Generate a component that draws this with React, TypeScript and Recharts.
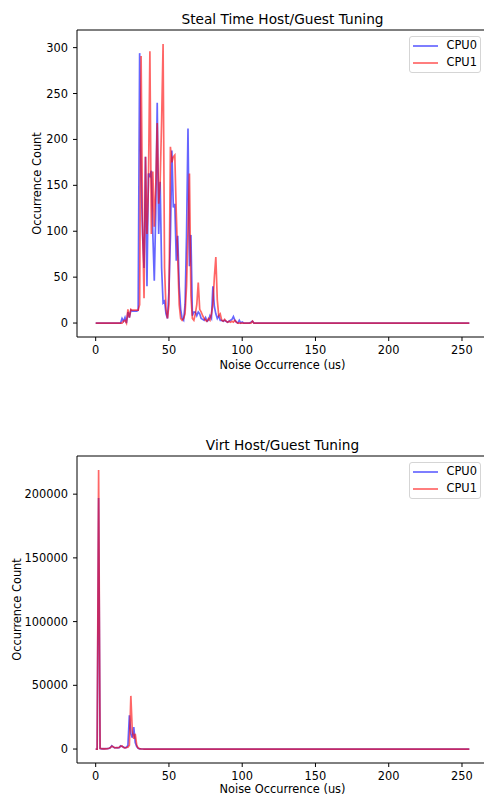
import React from 'react';
import { LineChart, Line, XAxis, YAxis, Legend } from 'recharts';

const FONT = '"DejaVu Sans", sans-serif';

const seriesNames = ['CPU0', 'CPU1'];
const seriesColors = ['#0000ff', '#ff0000'];
const xTicks = [0, 50, 100, 150, 200, 250];
const stealTicks = [0, 50, 100, 150, 200, 250, 300];
const virtTicks = [0, 50000, 100000, 150000, 200000];

const stealCpu0 = [
  0, 0, 0, 0, 0, 0, 0, 0, 0, 0, 0, 0, 0, 0, 0, 0,
  0, 0, 5, 2, 6, 0, 12, 6, 14, 13, 13, 13, 13, 14, 294, 160,
  95, 60, 181, 40, 163, 160, 166, 97, 46, 120, 240, 97, 154, 60, 22, 24,
  10, 5, 35, 93, 188, 126, 130, 68, 95, 40, 15, 5, 3, 20, 95, 212,
  62, 96, 8, 12, 12, 8, 12, 10, 5, 4, 3, 6, 2, 3, 8, 5,
  40, 18, 10, 5, 8, 3, 3, 2, 3, 2, 1, 2, 3, 4, 7, 3,
  1, 0, 3, 0, 1, 0, 0, 0, 0, 0, 1, 2, 0, 0, 0, 0,
  0, 0, 0, 0, 0, 0, 0, 0, 0, 0, 0, 0, 0, 0, 0, 0,
  0, 0, 0, 0, 0, 0, 0, 0, 0, 0, 0, 0, 0, 0, 0, 0,
  0, 0, 0, 0, 0, 0, 0, 0, 0, 0, 0, 0, 0, 0, 0, 0,
  0, 0, 0, 0, 0, 0, 0, 0, 0, 0, 0, 0, 0, 0, 0, 0,
  0, 0, 0, 0, 0, 0, 0, 0, 0, 0, 0, 0, 0, 0, 0, 0,
  0, 0, 0, 0, 0, 0, 0, 0, 0, 0, 0, 0, 0, 0, 0, 0,
  0, 0, 0, 0, 0, 0, 0, 0, 0, 0, 0, 0, 0, 0, 0, 0,
  0, 0, 0, 0, 0, 0, 0, 0, 0, 0, 0, 0, 0, 0, 0, 0,
  0, 0, 0, 0, 0, 0, 0, 0, 0, 0, 0, 0, 0, 0, 0, 0,
];

const stealCpu1 = [
  0, 0, 0, 0, 0, 0, 0, 0, 0, 0, 0, 0, 0, 0, 0, 0,
  0, 0, 0, 2, 3, 0, 15, 6, 15, 14, 14, 14, 14, 14, 20, 291,
  110, 27, 181, 97, 150, 296, 97, 165, 105, 150, 218, 130, 153, 220, 304, 60,
  15, 5, 20, 192, 175, 181, 183, 120, 70, 20, 5, 3, 5, 10, 40, 100,
  163, 30, 5, 3, 10, 20, 44, 15, 12, 8, 5, 3, 2, 5, 3, 10,
  20, 50, 72, 25, 8, 10, 3, 2, 4, 2, 1, 2, 1, 2, 1, 3,
  1, 0, 0, 0, 0, 0, 0, 0, 0, 0, 0, 2, 0, 0, 0, 0,
  0, 0, 0, 0, 0, 0, 0, 0, 0, 0, 0, 0, 0, 0, 0, 0,
  0, 0, 0, 0, 0, 0, 0, 0, 0, 0, 0, 0, 0, 0, 0, 0,
  0, 0, 0, 0, 0, 0, 0, 0, 0, 0, 0, 0, 0, 0, 0, 0,
  0, 0, 0, 0, 0, 0, 0, 0, 0, 0, 0, 0, 0, 0, 0, 0,
  0, 0, 0, 0, 0, 0, 0, 0, 0, 0, 0, 0, 0, 0, 0, 0,
  0, 0, 0, 0, 0, 0, 0, 0, 0, 0, 0, 0, 0, 0, 0, 0,
  0, 0, 0, 0, 0, 0, 0, 0, 0, 0, 0, 0, 0, 0, 0, 0,
  0, 0, 0, 0, 0, 0, 0, 0, 0, 0, 0, 0, 0, 0, 0, 0,
  0, 0, 0, 0, 0, 0, 0, 0, 0, 0, 0, 0, 0, 0, 0, 0,
];

const virtCpu0 = [
  0, 0, 197000, 500, 200, 300, 200, 300, 400, 500, 1200, 2600, 1500, 900, 1200, 900,
  1000, 2500, 2000, 1500, 1000, 1300, 3000, 26500, 12000, 9000, 17300, 5000, 2000, 600, 200, 100,
  50, 0, 0, 0, 0, 0, 0, 0, 0, 0, 0, 0, 0, 0, 0, 0,
  0, 0, 0, 0, 0, 0, 0, 0, 0, 0, 0, 0, 0, 0, 0, 0,
  0, 0, 0, 0, 0, 0, 0, 0, 0, 0, 0, 0, 0, 0, 0, 0,
  0, 0, 0, 0, 0, 0, 0, 0, 0, 0, 0, 0, 0, 0, 0, 0,
  0, 0, 0, 0, 0, 0, 0, 0, 0, 0, 0, 0, 0, 0, 0, 0,
  0, 0, 0, 0, 0, 0, 0, 0, 0, 0, 0, 0, 0, 0, 0, 0,
  0, 0, 0, 0, 0, 0, 0, 0, 0, 0, 0, 0, 0, 0, 0, 0,
  0, 0, 0, 0, 0, 0, 0, 0, 0, 0, 0, 0, 0, 0, 0, 0,
  0, 0, 0, 0, 0, 0, 0, 0, 0, 0, 0, 0, 0, 0, 0, 0,
  0, 0, 0, 0, 0, 0, 0, 0, 0, 0, 0, 0, 0, 0, 0, 0,
  0, 0, 0, 0, 0, 0, 0, 0, 0, 0, 0, 0, 0, 0, 0, 0,
  0, 0, 0, 0, 0, 0, 0, 0, 0, 0, 0, 0, 0, 0, 0, 0,
  0, 0, 0, 0, 0, 0, 0, 0, 0, 0, 0, 0, 0, 0, 0, 0,
  0, 0, 0, 0, 0, 0, 0, 0, 0, 0, 0, 0, 0, 0, 0, 0,
];

const virtCpu1 = [
  0, 0, 219000, 400, 300, 200, 300, 200, 300, 600, 1000, 2200, 1800, 1000, 900, 1100,
  1200, 2200, 2400, 1200, 900, 1200, 1500, 3000, 41700, 14000, 8000, 12000, 3000, 800, 200, 100,
  50, 0, 0, 0, 0, 0, 0, 0, 0, 0, 0, 0, 0, 0, 0, 0,
  0, 0, 0, 0, 0, 0, 0, 0, 0, 0, 0, 0, 0, 0, 0, 0,
  0, 0, 0, 0, 0, 0, 0, 0, 0, 0, 0, 0, 0, 0, 0, 0,
  0, 0, 0, 0, 0, 0, 0, 0, 0, 0, 0, 0, 0, 0, 0, 0,
  0, 0, 0, 0, 0, 0, 0, 0, 0, 0, 0, 0, 0, 0, 0, 0,
  0, 0, 0, 0, 0, 0, 0, 0, 0, 0, 0, 0, 0, 0, 0, 0,
  0, 0, 0, 0, 0, 0, 0, 0, 0, 0, 0, 0, 0, 0, 0, 0,
  0, 0, 0, 0, 0, 0, 0, 0, 0, 0, 0, 0, 0, 0, 0, 0,
  0, 0, 0, 0, 0, 0, 0, 0, 0, 0, 0, 0, 0, 0, 0, 0,
  0, 0, 0, 0, 0, 0, 0, 0, 0, 0, 0, 0, 0, 0, 0, 0,
  0, 0, 0, 0, 0, 0, 0, 0, 0, 0, 0, 0, 0, 0, 0, 0,
  0, 0, 0, 0, 0, 0, 0, 0, 0, 0, 0, 0, 0, 0, 0, 0,
  0, 0, 0, 0, 0, 0, 0, 0, 0, 0, 0, 0, 0, 0, 0, 0,
  0, 0, 0, 0, 0, 0, 0, 0, 0, 0, 0, 0, 0, 0, 0, 0,
];

// histogram bin index (us)
const noiseUs: number[] = stealCpu0.map((_, i) => i);

const X_DOMAIN: [number, number] = [-12.75, 267.75];

type PanelProps = {
  title: string;
  cpu0: number[];
  cpu1: number[];
  yDomain: [number, number];
  yTicks: number[];
  yLabelX: number;
  xLabelOffset: number;
  top: number;
};

const LegendBox = (props: any) => {
  const payload = props.payload || [];
  return (
    <div
      style={{
        border: '1px solid #d5d5d5',
        borderRadius: 3,
        background: 'rgba(255,255,255,0.8)',
        padding: '0 2px 1px 3px',
        fontFamily: FONT,
        fontSize: 11.4,
        color: '#000',
        width: 65,
      }}
    >
      {seriesNames.map((name, i) => (
        <div key={name} style={{ display: 'flex', alignItems: 'center', height: 17, lineHeight: '17px' }}>
          <svg width={25} height={4} style={{ display: 'block' }}>
            <line x1={0} y1={2} x2={25} y2={2} stroke={seriesColors[i]} strokeOpacity={0.6} strokeWidth={1.7} />
          </svg>
          <span style={{ marginLeft: 8.5 }}>{payload[i] ? payload[i].value : name}</span>
        </div>
      ))}
    </div>
  );
};

function Panel({ title, cpu0, cpu1, yDomain, yTicks, yLabelX, xLabelOffset, top }: PanelProps) {
  const data = noiseUs.map((x, i) => ({ x, cpu0: cpu0[i], cpu1: cpu1[i] }));
  const tickStyle = { fill: '#000', fontSize: 11.4, fontFamily: FONT };
  return (
    <div style={{ position: 'absolute', left: 0, top }}>
      <LineChart width={500} height={391} data={data} margin={{ top: 29, right: 12, bottom: 0, left: 0 }}>
        <XAxis
          xAxisId="b"
          dataKey="x"
          type="number"
          domain={X_DOMAIN}
          ticks={xTicks}
          allowDataOverflow
          height={54}
          tickSize={4}
          tickMargin={5}
          tick={tickStyle}
          axisLine={{ stroke: '#000', strokeWidth: 1 }}
          tickLine={{ stroke: '#000', strokeWidth: 1 }}
          label={{
            content: (p: any) => (
              <text
                x={p.viewBox.x + p.viewBox.width / 2}
                y={p.viewBox.y + xLabelOffset}
                textAnchor="middle"
                fontSize={11.4}
                fontFamily={FONT}
                fill="#000"
              >
                Noise Occurrence (us)
              </text>
            ),
          }}
        />
        <XAxis
          xAxisId="t"
          orientation="top"
          dataKey="x"
          type="number"
          domain={X_DOMAIN}
          allowDataOverflow
          height={1}
          tick={false}
          tickLine={false}
          axisLine={{ stroke: '#000', strokeWidth: 1 }}
          label={{
            content: (p: any) => (
              <text
                x={p.viewBox.x + p.viewBox.width / 2}
                y={30 - 6}
                textAnchor="middle"
                fontSize={13.7}
                fontFamily={FONT}
                fill="#000"
              >
                {title}
              </text>
            ),
          }}
        />
        <YAxis
          yAxisId="l"
          type="number"
          domain={yDomain}
          ticks={yTicks}
          allowDataOverflow
          width={77}
          tickSize={4}
          tickMargin={5}
          tick={tickStyle}
          axisLine={{ stroke: '#000', strokeWidth: 1 }}
          tickLine={{ stroke: '#000', strokeWidth: 1 }}
          label={{
            content: (p: any) => {
              const cy = p.viewBox.y + p.viewBox.height / 2;
              return (
                <text
                  x={yLabelX}
                  y={cy}
                  textAnchor="middle"
                  transform={`rotate(-90 ${yLabelX} ${cy})`}
                  fontSize={11.4}
                  fontFamily={FONT}
                  fill="#000"
                >
                  Occurrence Count
                </text>
              );
            },
          }}
        />
        <Line
          xAxisId="b"
          yAxisId="l"
          type="linear"
          dataKey="cpu0"
          name={seriesNames[0]}
          stroke={seriesColors[0]}
          strokeOpacity={0.6}
          strokeWidth={1.7}
          dot={false}
          activeDot={false}
          isAnimationActive={false}
        />
        <Line
          xAxisId="b"
          yAxisId="l"
          type="linear"
          dataKey="cpu1"
          name={seriesNames[1]}
          stroke={seriesColors[1]}
          strokeOpacity={0.6}
          strokeWidth={1.7}
          dot={false}
          activeDot={false}
          isAnimationActive={false}
        />
        <Legend
          layout="horizontal"
          verticalAlign="middle"
          align="center"
          content={LegendBox}
          wrapperStyle={{ position: 'absolute', left: 409, top: 36, width: 71, height: 37 }}
        />
      </LineChart>
    </div>
  );
}

export default function App() {
  return (
    <div
      style={{
        position: 'absolute',
        left: 0,
        top: 0,
        width: 484,
        height: 796,
        overflow: 'hidden',
        background: '#fff',
      }}
    >
      <Panel
        title="Steal Time Host/Guest Tuning"
        cpu0={stealCpu0}
        cpu1={stealCpu1}
        yDomain={[-15.2, 319.2]}
        yTicks={stealTicks}
        yLabelX={41}
        xLabelOffset={32}
        top={0}
      />
      <Panel
        title="Virt Host/Guest Tuning"
        cpu0={virtCpu0}
        cpu1={virtCpu1}
        yDomain={[-10950, 229950]}
        yTicks={virtTicks}
        yLabelX={21}
        xLabelOffset={30}
        top={426}
      />
    </div>
  );
}
